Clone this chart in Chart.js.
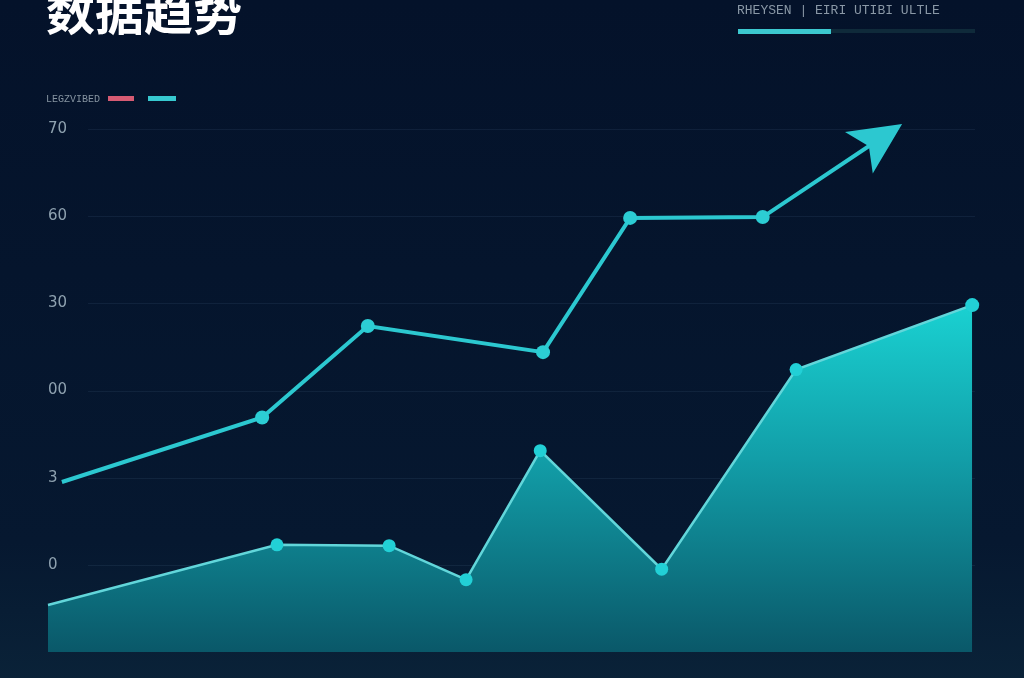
<!DOCTYPE html>
<html>
<head>
<meta charset="utf-8">
<script src="https://cdn.jsdelivr.net/npm/chart.js@4"></script>
<style>
  html, body { margin: 0; padding: 0; }
  body { width: 1024px; height: 678px; background: linear-gradient(#04122a 0%, #061830 80%, #0a2238 100%); overflow: hidden; }
  #wrap { position: relative; width: 1024px; height: 678px; }
</style>
</head>
<body>
<div id="wrap"><canvas id="myChart" width="1024" height="678"></canvas></div>
<script>
// tick labels as printed on the picture, bottom to top
const tickValues = [0, 10, 20, 30, 40, 50];
const tickLabels = ["0", "3", "00", "30", "60", "70"];

// upper line (ends in an arrow)
const trendX = [1.5, 23.1, 34.5, 53.4, 62.8, 77.1, 91.6];
const trendY = [9.5, 16.9, 27.4, 24.4, 39.8, 39.9, 50.2];

// filled area series
const areaX = [0, 24.7, 36.8, 45.1, 53.1, 66.2, 80.7, 99.7];
const areaY = [-4.6, 2.3, 2.2, -1.7, 13.1, -0.5, 22.4, 29.8];

const titleText = "数据趋势";
const topRightText = "RHEYSEN | EIRI UTIBI ULTLE";
const legendText = "LEGZVIBED";

const toPoints = (xs, ys) => xs.map((x, i) => ({ x: x, y: ys[i] }));

// faint grid lines that start a bit right of the labels
const gridPlugin = {
  id: "softGrid",
  beforeDatasetsDraw(chart) {
    const { ctx, chartArea, scales } = chart;
    ctx.save();
    ctx.strokeStyle = "rgba(110,150,180,0.11)";
    ctx.lineWidth = 1;
    tickValues.forEach(v => {
      const y = Math.round(scales.y.getPixelForValue(v)) + 0.5;
      ctx.beginPath();
      ctx.moveTo(chartArea.left + 40, y);
      ctx.lineTo(chartArea.right, y);
      ctx.stroke();
    });
    ctx.restore();
  }
};

// arrow head on the end of the upper line
const arrowPlugin = {
  id: "arrowHead",
  afterDatasetsDraw(chart) {
    const pts = chart.getDatasetMeta(0).data;
    const a = pts[pts.length - 2], b = pts[pts.length - 1];
    const ang = Math.atan2(b.y - a.y, b.x - a.x);
    const ctx = chart.ctx;
    ctx.save();
    ctx.translate(b.x, b.y);
    ctx.rotate(ang);
    ctx.fillStyle = "#2cc8d0";
    ctx.beginPath();
    ctx.moveTo(6, 0);
    ctx.lineTo(-46, -25);
    ctx.lineTo(-34, 0);
    ctx.lineTo(-46, 25);
    ctx.closePath();
    ctx.fill();
    ctx.restore();
  }
};

// title, header text, progress bar and legend chips
const decorPlugin = {
  id: "decor",
  afterDraw(chart) {
    const ctx = chart.ctx;
    ctx.save();
    ctx.fillStyle = "#ffffff";
    ctx.font = "bold 49px 'Noto Sans CJK SC'";
    ctx.textBaseline = "alphabetic";
    ctx.fillText(titleText, 46, 30);

    ctx.fillStyle = "#8a98a6";
    ctx.font = "13px 'Liberation Mono'";
    ctx.textBaseline = "middle";
    ctx.fillText(topRightText, 737, 11);

    ctx.fillStyle = "#0f2a3a";
    ctx.fillRect(831, 29, 144, 4);
    ctx.fillStyle = "#3cc8cf";
    ctx.fillRect(738, 29, 93, 5);

    ctx.fillStyle = "#8694a1";
    ctx.font = "10px 'Liberation Mono'";
    ctx.fillText(legendText, 46, 99);
    ctx.fillStyle = "#d65b73";
    ctx.fillRect(108, 96, 26, 5);
    ctx.fillStyle = "#37c9d0";
    ctx.fillRect(148, 96, 28, 5);
    ctx.restore();
  }
};

const data = {
  datasets: [
    {
      // garis atas
      data: toPoints(trendX, trendY),
      borderColor: "#2cc8d0",
      borderWidth: 4,
      pointRadius: [0, 7, 7, 7, 7, 7, 0],
      pointBackgroundColor: "#2ccdd4",
      pointBorderWidth: 0,
      fill: false,
      tension: 0,
      clip: false,
    },
    {
      // area bawah
      data: toPoints(areaX, areaY),
      borderColor: "#62d6da",
      borderWidth: 2.5,
      pointRadius: [0, 6.5, 6.5, 6.5, 6.5, 6.5, 6.5, 7],
      pointBackgroundColor: "#22d0d6",
      pointBorderWidth: 0,
      fill: "start",
      tension: 0,
      clip: false,
      backgroundColor: (c) => {
        const area = c.chart.chartArea;
        if (!area) return "rgba(20,180,190,0.6)";
        const g = c.chart.ctx.createLinearGradient(0, 300, 0, area.bottom);
        g.addColorStop(0, "#1ad3d3");
        g.addColorStop(0.45, "#129ea8");
        g.addColorStop(1, "#0a5869");
        return g;
      },
    },
  ],
};

const config = {
  type: "line",
  data: data,
  plugins: [gridPlugin, arrowPlugin, decorPlugin],
  options: {
    responsive: false,
    animation: false,
    layout: { padding: { left: 48, right: 49, top: 129, bottom: 26 } },
    plugins: {
      legend: { display: false },
      tooltip: { enabled: false },
    },
    scales: {
      x: { type: "linear", min: 0, max: 100, display: false },
      y: {
        min: -10,
        max: 50,
        grid: { display: false, drawTicks: false },
        border: { display: false },
        afterFit(s) { s.width = 0; },
        afterBuildTicks(s) { s.ticks = tickValues.map(v => ({ value: v })); },
        ticks: {
          mirror: true,
          padding: 0,
          color: "#8fa2b0",
          font: { size: 15, family: "'DejaVu Sans'" },
          callback: (v) => {
            const i = tickValues.indexOf(v);
            return i >= 0 ? tickLabels[i] : "";
          },
        },
      },
    },
  },
};

const myChart = new Chart(document.getElementById("myChart"), config);
</script>
</body>
</html>
